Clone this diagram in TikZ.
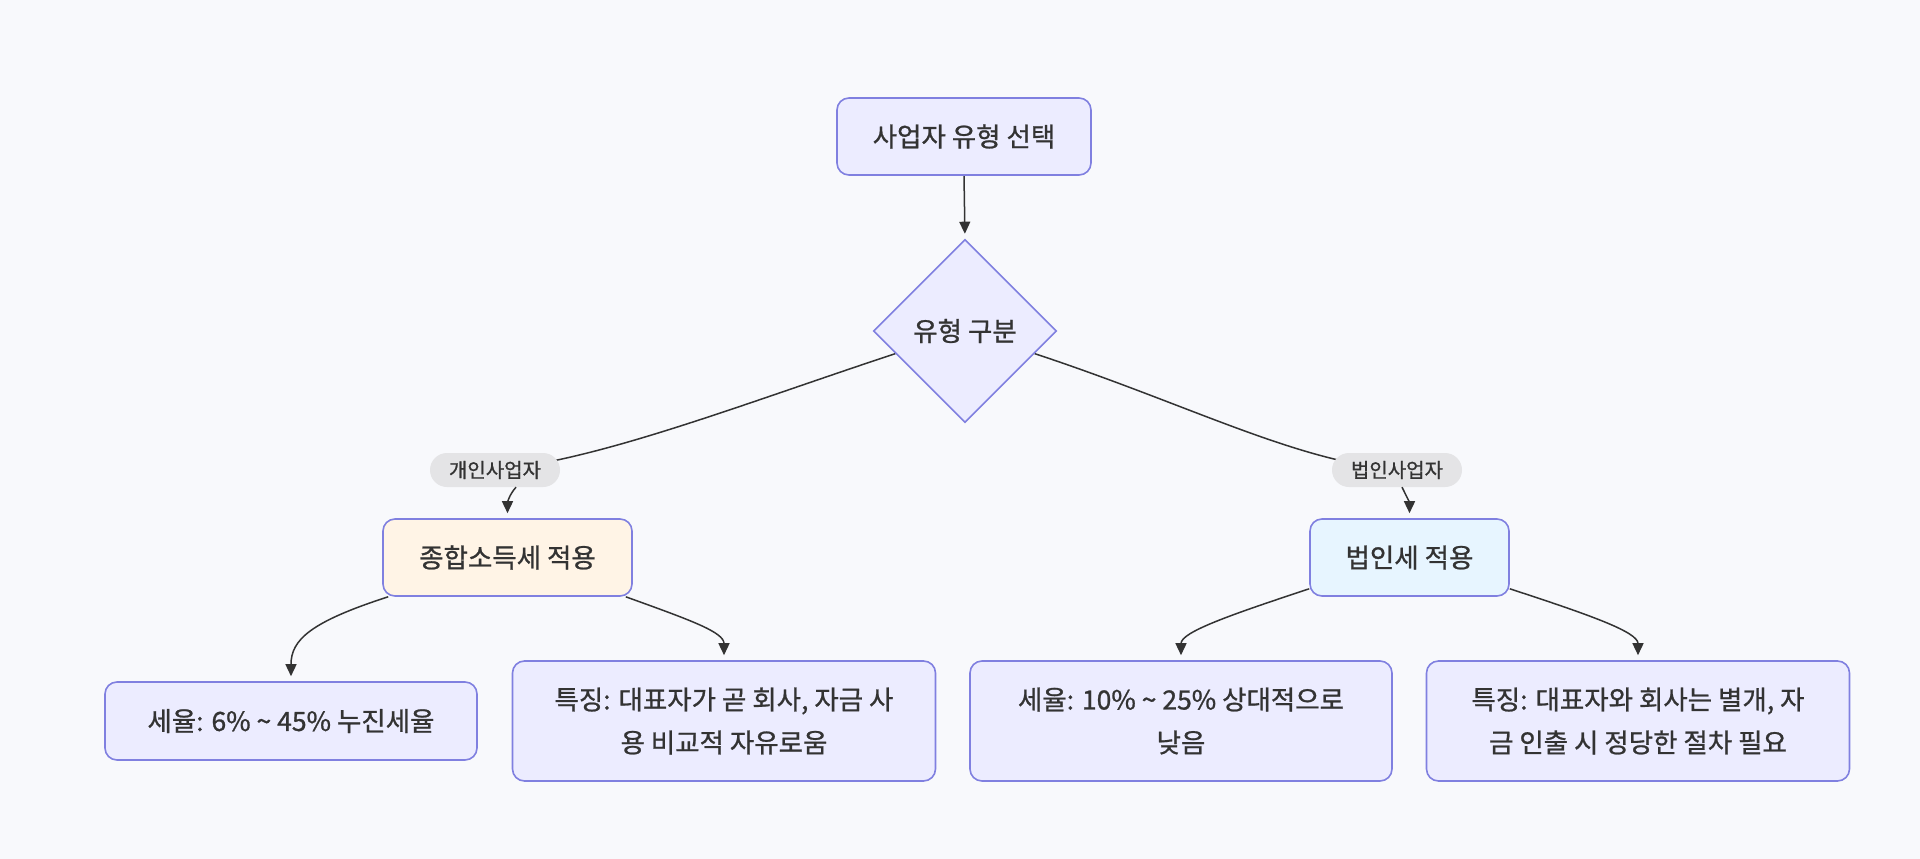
\documentclass[tikz,border=0pt]{standalone}
\usepackage{fontspec}
\setmainfont{Noto Sans CJK KR}[FakeBold=0.9]
\usetikzlibrary{shapes.geometric,arrows.meta,backgrounds,calc}
\definecolor{bg}{HTML}{F8F9FC}
\definecolor{nodefill}{HTML}{ECECFF}
\definecolor{nodeborder}{HTML}{8080E0}
\definecolor{orangefill}{HTML}{FFF4E6}
\definecolor{bluefill}{HTML}{E7F5FF}
\definecolor{pillfill}{HTML}{E4E4E6}
\definecolor{ink}{HTML}{333333}
\begin{document}
\begin{tikzpicture}[x=1pt,y=-1pt,
  box/.style={draw=nodeborder, line width=1.6pt, fill=nodefill, rounded corners=12pt,
    text=ink, font=\fontsize{26.5}{43}\selectfont, align=center, inner sep=0pt},
  decision/.style={draw=nodeborder, line width=1.6pt, fill=nodefill, shape=diamond,
    minimum width=183pt, minimum height=183pt, inner sep=0pt, text=ink,
    font=\fontsize{26.5}{32}\selectfont},
  pill/.style={fill=pillfill, rounded corners=17pt, minimum width=130pt, minimum height=34pt,
    inner sep=0pt, text=ink, font=\fontsize{20}{24}\selectfont},
  link/.style={draw=ink, line width=1.5pt},
  arr/.style={link, -{Triangle[length=12pt,width=11pt]}, shorten >=5pt}]
\useasboundingbox (0,0) rectangle (1920,859);

\node[box, minimum width=254pt, minimum height=77pt] (top) at (964,136.5) {사업자 유형 선택};
\node[decision] (dia) at (965,331) {유형 구분};
\node[pill] (pill1) at (495,470) {개인사업자};
\node[pill] (pill2) at (1397,470) {법인사업자};
\node[box, fill=orangefill, minimum width=249pt, minimum height=77pt] (tax1) at (507.5,557.5) {종합소득세 적용};
\node[box, fill=bluefill, minimum width=199pt, minimum height=77pt] (tax2) at (1409.5,557.5) {법인세 적용};
\node[box, minimum width=372pt, minimum height=78pt] (b1) at (291,721) {세율: 6\% \textasciitilde{} 45\% 누진세율};
\node[box, minimum width=423pt, minimum height=120pt] (b2) at (724,721) {특징: 대표자가 곧 회사, 자금 사\\용 비교적 자유로움};
\node[box, minimum width=422pt, minimum height=120pt] (b3) at (1181,721) {세율: 10\% \textasciitilde{} 25\% 상대적으로\\낮음};
\node[box, minimum width=423pt, minimum height=120pt] (b4) at (1638,721) {특징: 대표자와 회사는 별개, 자\\금 인출 시 정당한 절차 필요};

\begin{scope}[on background layer]
  \fill[bg] (0,0) rectangle (1920,859);
  \draw[arr] (top.south) -- (dia.north);
  \draw[link] (dia.198) .. controls (740,405) and (600,460) .. (pill1.center);
  \draw[link] (dia.-18) .. controls (1190,405) and (1292,460) .. (pill2.center);
\end{scope}
\draw[arr] ($(pill1.south)+(21,0)$) .. controls (509,495) and (507.5,503) .. (tax1.north);
\draw[arr] ($(pill2.south)+(5,0)$) .. controls (1406,495) and (1409.5,503) .. (tax2.north);
\draw[arr] ($(tax1.south west)+(6,0)$) .. controls (310,622) and (291,640) .. (b1.north);
\draw[arr] ($(tax1.south east)+(-7,0)$) .. controls (690,620) and (724,632) .. (b2.north);
\draw[arr] ($(tax2.south west)+(0,-8)$) .. controls (1230,615) and (1181,632) .. (b3.north);
\draw[arr] ($(tax2.south east)+(0,-8)$) .. controls (1590,615) and (1638,632) .. (b4.north);
\end{tikzpicture}
\end{document}
